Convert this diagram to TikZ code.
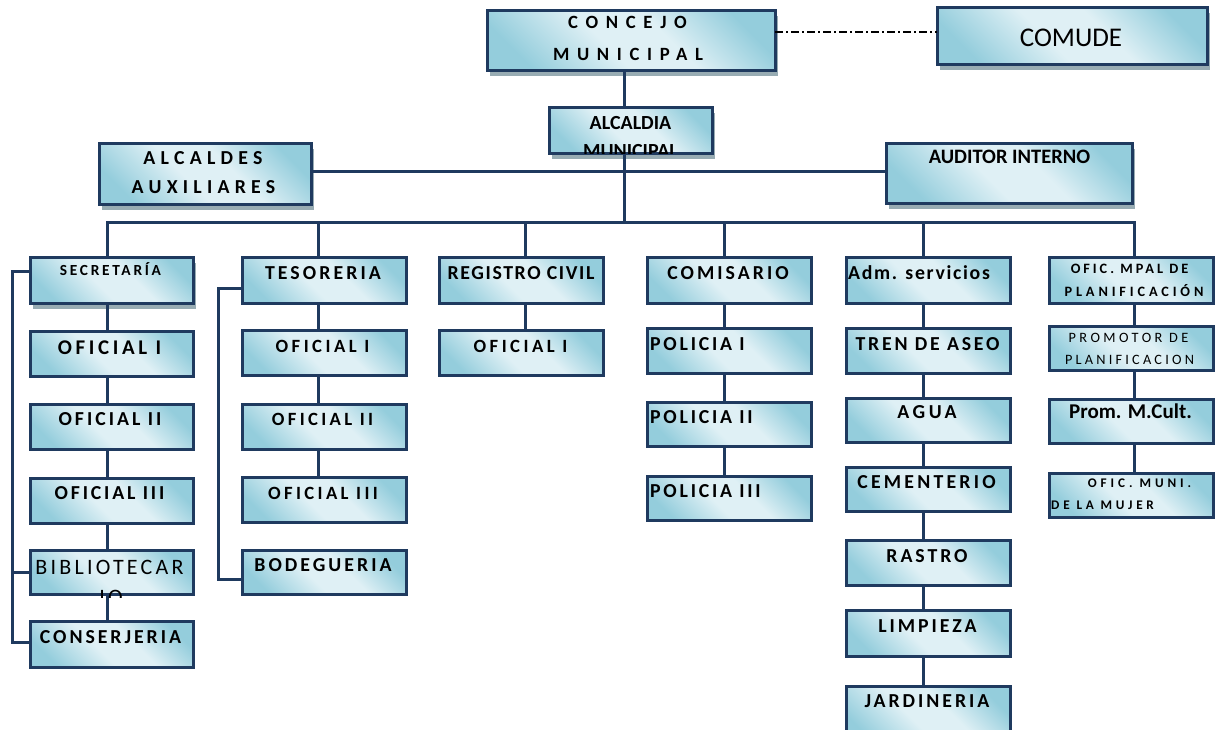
\documentclass[tikz,border=0pt]{standalone}
\usepackage{fontspec}
\setmainfont{Carlito}
\usetikzlibrary{shadows,calc}
\definecolor{navy}{HTML}{1F3A5F}
\definecolor{bdark}{HTML}{94CDDC}
\definecolor{blight}{HTML}{DFF0F5}
\definecolor{shadowc}{HTML}{98ACB3}
\pgfdeclarehorizontalshading{boxsh}{100bp}{color(0bp)=(bdark); color(24bp)=(bdark); color(44bp)=(blight); color(58bp)=(blight); color(76bp)=(bdark); color(100bp)=(bdark)}
\newcommand\bx[6][]{\node[box,#1,minimum width={#5-#3},minimum height={#6-#4}] (#2) at ({(#3+#5)/2},{(#4+#6)/2}) {};}
\newcommand\labB[7]{\node[anchor=#1,inner sep=0pt] (#2) at (#3,#4) {\fontsize{#5}{#5}\selectfont\bfseries\addfontfeatures{LetterSpace=#6}#7};}
\newcommand\labR[7]{\node[anchor=#1,inner sep=0pt] (#2) at (#3,#4) {\fontsize{#5}{#5}\selectfont\addfontfeatures{LetterSpace=#6}#7};}
\begin{document}
\begin{tikzpicture}[x=1pt,y=-1pt,
  box/.style={rectangle,draw=navy,line width=3pt,shade,shading=boxsh,shading angle=45,inner sep=0pt,outer sep=0pt},
  shd/.style={drop shadow={shadow xshift=3pt,shadow yshift=-6pt,fill=shadowc,opacity=1}},
  conn/.style={draw=navy,line width=3pt},
  dashdot/.style={draw=black,line width=1.3pt,dash pattern=on 8pt off 3pt on 2pt off 3pt}]
\clip (0,0) rectangle (1217,729);
\fill[white] (0,0) rectangle (1217,729);
% top
\bx[shd]{concejo}{487}{10}{775}{70}
\bx[shd]{comude}{937}{7}{1207}{64}
\bx[shd]{alcaldia}{549}{107}{712}{153}
\bx[shd]{alcaldes}{99}{143}{311}{204}
\bx[shd]{auditor}{886}{143}{1132}{203}
% column 1
\bx[shd]{sec}{30}{257}{193}{303}
\bx{ofa1}{30}{331}{193}{376}
\bx{ofa2}{30}{404}{193}{449}
\bx{ofa3}{30}{478}{193}{523}
\bx{bib}{30}{550}{193}{594}
\bx{cons}{30}{621}{193}{667}
% column 2
\bx{tes}{242}{257}{406}{303}
\bx{ofb1}{242}{330}{406}{375}
\bx{ofb2}{242}{404}{406}{449}
\bx{ofb3}{242}{477}{406}{522}
\bx{bod}{242}{550}{406}{594}
% column 3
\bx{reg}{439}{257}{603}{303}
\bx{ofc1}{439}{330}{603}{375}
% column 4
\bx{comi}{647}{257}{811}{303}
\bx{pol1}{647}{328}{811}{373}
\bx{pol2}{647}{402}{811}{446}
\bx{pol3}{647}{476}{811}{520}
% column 5
\bx{adm}{846}{257}{1010}{303}
\bx{tren}{846}{328}{1010}{373}
\bx{agua}{846}{398}{1010}{442}
\bx{cem}{846}{467}{1010}{511}
\bx{rastro}{846}{540}{1010}{585}
\bx{limp}{846}{610}{1010}{656}
\bx{jard}{846}{686}{1010}{745}
% column 6
\bx{mpal}{1049}{257}{1213}{303}
\bx{promo}{1049}{326}{1213}{370}
\bx{pcult}{1049}{399}{1213}{443}
\bx{mujer}{1049}{473}{1213}{517}
% coordinates
\coordinate (dd) at (0,32);
\coordinate (hl) at (0,171);
\coordinate (v0) at (624,0);
\coordinate (c1) at (107,222);
\coordinate (c2) at (318,222);
\coordinate (c3) at (525,222);
\coordinate (c4) at (724,222);
\coordinate (c5) at (923,222);
\coordinate (c6) at (1134,222);
\coordinate (k1) at (12,0);
\coordinate (k2) at (218,0);
% connectors
\draw[dashdot] (concejo.east |- dd) -- (comude.west |- dd);
\draw[conn] (concejo.south -| v0) -- (alcaldia.north -| v0);
\draw[conn] (alcaldia.south -| v0) -- (v0 |- c1);
\draw[conn] (alcaldes.east |- hl) -- (auditor.west |- hl);
\draw[conn] (c1 |- sec.north) -- (c1) -- (c6) -- (c6 |- mpal.north);
\draw[conn] (c2) -- (c2 |- tes.north);
\draw[conn] (c3) -- (c3 |- reg.north);
\draw[conn] (c4) -- (c4 |- comi.north);
\draw[conn] (c5) -- (c5 |- adm.north);
% column chains
\draw[conn] (c1 |- sec.south) -- (c1 |- ofa1.north);
\draw[conn] (c1 |- ofa1.south) -- (c1 |- ofa2.north);
\draw[conn] (c1 |- ofa2.south) -- (c1 |- ofa3.north);
\draw[conn] (c1 |- ofa3.south) -- (c1 |- bib.north);
\draw[conn] (c1 |- bib.south) -- (c1 |- cons.north);
\draw[conn] (c2 |- tes.south) -- (c2 |- ofb1.north);
\draw[conn] (c2 |- ofb1.south) -- (c2 |- ofb2.north);
\draw[conn] (c2 |- ofb2.south) -- (c2 |- ofb3.north);
\draw[conn] (c3 |- reg.south) -- (c3 |- ofc1.north);
\draw[conn] (c4 |- comi.south) -- (c4 |- pol1.north);
\draw[conn] (c4 |- pol1.south) -- (c4 |- pol2.north);
\draw[conn] (c4 |- pol2.south) -- (c4 |- pol3.north);
\draw[conn] (c5 |- adm.south) -- (c5 |- tren.north);
\draw[conn] (c5 |- tren.south) -- (c5 |- agua.north);
\draw[conn] (c5 |- agua.south) -- (c5 |- cem.north);
\draw[conn] (c5 |- cem.south) -- (c5 |- rastro.north);
\draw[conn] (c5 |- rastro.south) -- (c5 |- limp.north);
\draw[conn] (c5 |- limp.south) -- (c5 |- jard.north);
\draw[conn] (c6 |- mpal.south) -- (c6 |- promo.north);
\draw[conn] (c6 |- promo.south) -- (c6 |- pcult.north);
\draw[conn] (c6 |- pcult.south) -- (c6 |- mujer.north);
% brackets
\draw[conn] (sec.west |- 0,271) -- (k1 |- 0,271) -- (k1 |- 0,642) -- (cons.west |- 0,642);
\draw[conn] (k1 |- 0,572) -- (bib.west |- 0,572);
\draw[conn] (tes.west |- 0,288) -- (k2 |- 0,288) -- (k2 |- 0,579) -- (bod.west |- 0,579);
% texts
\labB{base}{tcon1}{627.5}{28}{18.7}{41}{CONCEJO}
\labB{base}{tcon2}{628}{60}{18.7}{41}{MUNICIPAL}
\labR{base}{tcom}{1071}{46}{27}{0}{COMUDE}
\labB{base}{talc1}{630.5}{129}{20}{0}{ALCALDIA}
\begin{scope}
\clip (alcaldia.north west) rectangle (alcaldia.south east);
\labB{base}{talc2}{630.5}{157}{20}{0}{MUNICIPAL}
\end{scope}
\labB{base}{taux1}{203}{164}{19.8}{26.5}{ALCALDES}
\labB{base}{taux2}{203.5}{193}{19.8}{26.5}{AUXILIARES}
\labB{base}{taud}{1009.5}{163}{20.5}{0}{AUDITOR INTERNO}
\labB{base}{tsec}{110.5}{275}{15.4}{17.6}{SECRETARÍA}
\labB{base}{ta1}{109.5}{354}{20.9}{17.6}{OFICIAL I}
\labB{base}{ta2}{110}{425}{19.8}{15}{OFICIAL II}
\labB{base}{ta3}{109.5}{499}{19.8}{14.3}{OFICIAL III}
\labR{base}{tbib1}{109.5}{574}{22}{14.7}{BIBLIOTECAR}
\begin{scope}
\clip (30,575) rectangle (193,597);
\labR{base}{tbib2}{111}{604}{22}{14.7}{IO}
\end{scope}
\labB{base}{tcons}{110.5}{643}{19.8}{14.9}{CONSERJERIA}
\labB{base}{ttes}{323}{279}{19.8}{15.6}{TESORERIA}
\labB{base}{tb1}{322.5}{352}{18.7}{18.5}{OFICIAL I}
\labB{base}{tb2}{322.5}{425}{18.7}{17.8}{OFICIAL II}
\labB{base}{tb3}{323}{499}{18.7}{17.9}{OFICIAL III}
\labB{base}{tbod}{323}{571}{19.8}{15.3}{BODEGUERIA}
\labB{base}{treg}{521}{279}{19.8}{8.2}{REGISTRO CIVIL}
\labB{base}{tc1}{520.5}{352}{18.7}{18.5}{OFICIAL I}
\labB{base}{tcomi}{728}{279}{19.8}{15.3}{COMISARIO}
\labB{base west}{tp1}{650}{350}{19.8}{13.9}{POLICIA I}
\labB{base west}{tp2}{650}{423}{19.8}{13.9}{POLICIA II}
\labB{base west}{tp3}{650}{497}{19.8}{13.9}{POLICIA III}
\labB{base west}{tadm}{848}{279}{19.8}{8.5}{Adm. servicios}
\labB{base}{ttren}{927.5}{350}{19.8}{14.1}{TREN DE ASEO}
\labB{base}{tagua}{927}{418}{19.8}{17.9}{AGUA}
\labB{base}{tcem}{926.5}{488}{19.8}{16.2}{CEMENTERIO}
\labB{base}{tras}{927}{562}{19.8}{14.8}{RASTRO}
\labB{base}{tlim}{927.5}{632}{19.8}{14.9}{LIMPIEZA}
\labB{base}{tjar}{927}{707}{19.8}{15}{JARDINERIA}
\labB{base}{tm1}{1129.5}{273}{14.3}{20.8}{OFIC. MPAL DE}
\labB{base}{tm2}{1134}{296}{14.3}{27}{PLANIFICACIÓN}
\labR{base}{tpr1}{1128.5}{342}{14.3}{24.3}{PROMOTOR DE}
\labR{base}{tpr2}{1129.5}{364}{14.3}{22.5}{PLANIFICACION}
\labB{base}{tpc}{1130.5}{418}{21}{0}{Prom. M.Cult.}
\labB{base}{tmu1}{1139.5}{487}{13.2}{29.9}{OFIC. MUNI.}
\labB{base west}{tmu2}{1051}{509}{13.2}{28.6}{DE LA MUJER}
\end{tikzpicture}
\end{document}
